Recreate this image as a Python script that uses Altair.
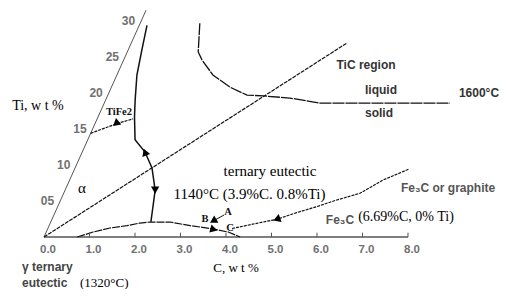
import altair as alt
import pandas as pd

# skew of the slanted Ti axis (horizontal C-units per 1 wt% Ti)
SKEW = 0.0712

# ---- curves (C wt%, Ti wt%) ----
ti_axis_c = [0.0, 0.0]
ti_axis_ti = [0.0, 31.5]

c_axis_c = [0.0, 8.0]
c_axis_ti = [0.0, 0.0]

diag_c = [0.0, 4.74]
diag_ti = [0.0, 26.94]

tife2_c = [0.0, 0.50, 0.79]
tife2_ti = [14.4, 15.8, 16.4]

main_c = [0.17, 0.30, 0.44, 0.65, 0.80, 1.04, 1.38, 1.69, 1.98, 2.05, 2.14, 2.20]
main_ti = [29.4, 26.0, 22.5, 19.0, 16.7, 13.5, 11.8, 9.6, 6.5, 5.1, 3.3, 2.1]

dome_c = [0.73, 1.03, 1.36, 1.71, 1.97, 2.18, 2.62, 3.10, 3.33, 3.64, 4.00, 4.31]
dome_ti = [0.0, 0.69, 1.25, 1.57, 1.94, 2.08, 2.08, 1.57, 1.39, 1.11, 0.69, 0.0]

fe3c_c = [7.34, 6.89, 6.51, 6.07, 5.69, 5.31, 4.94, 4.54, 4.05]
fe3c_ti = [9.4, 7.92, 6.07, 5.14, 4.21, 3.38, 2.46, 1.90, 1.18]

tic_c = [1.31, 1.56, 1.72, 2.11, 2.61, 3.06, 3.42, 4.03, 4.74, 7.60]
tic_ti = [29.7, 25.7, 24.6, 22.5, 20.8, 19.7, 19.6, 19.3, 18.6, 18.6]

ab_c = [3.56, 3.74]
ab_ti = [2.22, 3.06]

# ---- arrows ----
arrow_c = [0.50, 1.38, 1.98, 4.94, 3.56, 3.66]
arrow_ti = [15.8, 11.8, 6.5, 2.46, 2.22, 1.04]
arrow_shape = ["triangle-right", "triangle-up", "triangle-down", "triangle-left", "triangle-left", "triangle-right"]
arrow_angle = [20, 340, 0, 340, 330, 15]

# ---- axis ticks ----
c_ticks = [0, 1, 2, 3, 4, 5, 6, 7, 8]
c_tick_labels = ["0.0", "1.0", "2.0", "3.0", "4.0", "5.0", "6.0", "7.0", "8.0"]
ti_ticks = [5, 10, 15, 20, 25, 30]
ti_tick_labels = ["05", "10", "15", "20", "25", "30"]

xs = alt.Scale(domain=[-0.7912, 10.022], nice=False, zero=False)
ys = alt.Scale(domain=[-7.222, 31.806], nice=False, zero=False)
X = lambda f="X": alt.X(f"{f}:Q", scale=xs, axis=None)
Y = lambda f="Ti": alt.Y(f"{f}:Q", scale=ys, axis=None)


def curve(cs, tis, name="s"):
    return pd.DataFrame({"series": name, "i": list(range(len(cs))), "C": cs, "Ti": tis})


def line_layer(df, color="#111111", width=1.3, dash=None):
    props = dict(color=color, strokeWidth=width)
    if dash:
        props["strokeDash"] = dash
    return (
        alt.Chart(df)
        .transform_calculate(X=f"datum.C + {SKEW} * datum.Ti")
        .mark_line(**props)
        .encode(x=X(), y=Y(), order="i:Q", detail="series:N")
    )


layers = []
layers.append(line_layer(curve(ti_axis_c, ti_axis_ti), color="#555555", width=1.0))
layers.append(line_layer(curve(c_axis_c, c_axis_ti), color="#555555", width=1.5))
layers.append(line_layer(curve(diag_c, diag_ti), width=1.2, dash=[4, 1]))
layers.append(line_layer(curve(tife2_c, tife2_ti), width=1.2, dash=[3, 1]))
layers.append(line_layer(curve(main_c, main_ti), width=1.5))
layers.append(line_layer(curve(tic_c, tic_ti), width=1.3, dash=[12, 1]))
layers.append(line_layer(curve(dome_c, dome_ti), width=1.2, dash=[8, 1]))
layers.append(line_layer(curve(fe3c_c, fe3c_ti), width=1.2, dash=[3, 1]))
layers.append(line_layer(curve(ab_c, ab_ti), width=1.0))

# tick marks on C axis
tick_df = pd.DataFrame({"C": c_ticks[1:], "Ti": [0.0] * 8, "Ti2": [0.6] * 8})
layers.append(
    alt.Chart(tick_df).mark_rule(color="#555555", strokeWidth=1)
    .encode(x=alt.X("C:Q", scale=xs, axis=None), y=Y(), y2="Ti2:Q")
)

# arrows
for shp, ang, c, t in zip(arrow_shape, arrow_angle, arrow_c, arrow_ti):
    layers.append(
        alt.Chart(pd.DataFrame({"C": [c], "Ti": [t]}))
        .transform_calculate(X=f"datum.C + {SKEW} * datum.Ti")
        .mark_point(shape=shp, angle=ang, filled=True, color="#000000", size=70, opacity=1)
        .encode(x=X(), y=Y())
    )

# axis tick labels
c_lab = pd.DataFrame({"X": c_ticks, "Ti": [0.0] * 9, "t": c_tick_labels})
layers.append(
    alt.Chart(c_lab).mark_text(font="Liberation Sans", fontWeight="bold", fontSize=11.5,
                               color="#707070", dx=4, dy=13)
    .encode(x=X(), y=Y(), text="t:N")
)
ti_lab = pd.DataFrame({"C": [0.0] * 6, "Ti": ti_ticks, "t": ti_tick_labels})
layers.append(
    alt.Chart(ti_lab).transform_calculate(X=f"datum.C + {SKEW} * datum.Ti")
    .mark_text(font="Liberation Sans", fontWeight="bold", fontSize=12, color="#707070",
               align="right", dx=-6)
    .encode(x=X(), y=Y(), text="t:N")
)

# ---- annotations (horizontal position in C units at Ti=0 baseline, Ti) ----
serif_t = ["Ti, w t %", "α", "ternary eutectic", "1140°C (3.9%C. 0.8%Ti)", "(6.69%C, 0% Ti)", "C, w t %"]
serif_x = [-0.70, 0.835, 4.967, 4.516, 7.956, 4.22]
serif_y = [18.2, 6.8, 9.17, 5.97, 2.78, -4.3]
serif_size = [14, 15, 15, 15, 14, 13]
serif_align = ["left", "center", "center", "center", "center", "center"]

sans_t = ["TiC region", "liquid", "solid", "1600°C", "Fe₃C or graphite", "Fe₃C"]
sans_x = [7.077, 7.407, 7.363, 9.56, 8.88, 6.505]
sans_y = [23.9, 20.4, 17.2, 20.0, 6.8, 2.36]
sans_color = ["#333333", "#333333", "#333333", "#333333", "#555555", "#555555"]

small_t = ["TiFe2", "B", "A", "C"]
small_x = [1.648, 3.538, 4.044, 4.088]
small_y = [17.36, 2.5, 3.47, 1.25]

gamma_t = ["γ ternary", "eutectic"]
gamma_x = [-0.484, -0.484]
gamma_y = [-4.1, -6.39]

for t, x, y, s, a in zip(serif_t, serif_x, serif_y, serif_size, serif_align):
    layers.append(
        alt.Chart(pd.DataFrame({"X": [x], "Ti": [y], "t": [t]}))
        .mark_text(font="Liberation Serif", fontSize=s, color="#000000", align=a)
        .encode(x=X(), y=Y(), text="t:N")
    )
for t, x, y, col in zip(sans_t, sans_x, sans_y, sans_color):
    layers.append(
        alt.Chart(pd.DataFrame({"X": [x], "Ti": [y], "t": [t]}))
        .mark_text(font="Liberation Sans", fontWeight="bold", fontSize=12, color=col)
        .encode(x=X(), y=Y(), text="t:N")
    )
layers.append(
    alt.Chart(pd.DataFrame({"X": small_x, "Ti": small_y, "t": small_t}))
    .mark_text(font="Liberation Serif", fontWeight="bold", fontSize=10.5, color="#111111")
    .encode(x=X(), y=Y(), text="t:N")
)
layers.append(
    alt.Chart(pd.DataFrame({"X": gamma_x, "Ti": gamma_y, "t": gamma_t}))
    .mark_text(font="Liberation Sans", fontWeight="bold", fontSize=12, color="#444444", align="left")
    .encode(x=X(), y=Y(), text="t:N")
)
layers.append(
    alt.Chart(pd.DataFrame({"X": [0.791], "Ti": [-6.39], "t": ["(1320°C)"]}))
    .mark_text(font="Liberation Serif", fontSize=13, color="#000000", align="left")
    .encode(x=X(), y=Y(), text="t:N")
)

chart = (
    alt.layer(*layers)
    .properties(width=492, height=281, autosize=alt.AutoSizeParams(type="none"), padding=0)
    .configure_view(stroke=None)
)
chart.save("out.html", embed_options={"renderer": "svg", "actions": False})
